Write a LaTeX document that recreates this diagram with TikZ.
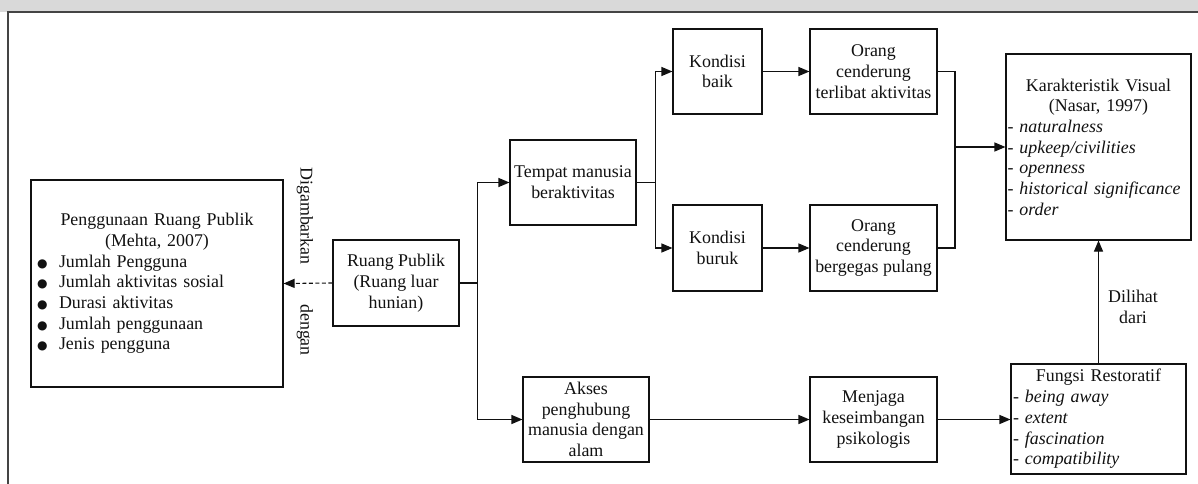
\documentclass[tikz,border=0pt]{standalone}
\usepackage{fontspec}
\setmainfont{Liberation Serif}
\newfontfamily\dejavu{DejaVu Sans}
\usetikzlibrary{arrows.meta}
\setlength{\parskip}{0pt}
\setlength{\parindent}{0pt}
\newcommand{\dfont}{\fontsize{17.9}{20.7}\selectfont}
\newcommand{\bul}{\makebox[23pt][l]{\hspace{1pt}{\dejavu\fontsize{12}{12}\selectfont ●}}}
\definecolor{band}{HTML}{D9D9D9}
\definecolor{frame}{HTML}{444444}
\definecolor{ink}{HTML}{111111}
\tikzset{
  sbox/.style={draw=ink, line width=1.1pt, inner sep=0pt, align=center, font=\dfont, text=ink},
  lbox/.style={draw=ink, line width=1.1pt, inner sep=0pt, font=\dfont, text=ink},
  conn/.style={draw=ink, line width=1.1pt},
  arr/.style={conn, -{Triangle[length=11pt,width=9pt]}},
  lbl/.style={font=\dfont, text=ink, inner sep=0pt},
}
\begin{document}
\begin{tikzpicture}[x=1pt,y=-1pt]
\useasboundingbox (0,0) rectangle (1198,484);
\fill[white] (0,0) rectangle (1198,484);
\fill[band] (0,0) rectangle (1198,12);
\draw[frame, line width=1.3pt] (1198,12) -- (8,12) -- (8,484);

% boxes
\node[lbox, minimum width=252, minimum height=207, text width=242] (pg) at (157,283.5)
 {{\centering Penggunaan Ruang Publik\\(Mehta, 2007)\par}
  \raggedright
  \bul Jumlah Pengguna\\
  \bul Jumlah aktivitas sosial\\
  \bul Durasi aktivitas\\
  \bul Jumlah penggunaan\\
  \bul Jenis pengguna\par};
\node[sbox, minimum width=126, minimum height=86] (rp) at (396,283) {Ruang Publik\\(Ruang luar\\hunian)};
\node[sbox, minimum width=126, minimum height=85] (tm) at (573,182.5) {Tempat manusia\\beraktivitas};
\node[sbox, minimum width=89, minimum height=85] (kb) at (717.5,71.5) {Kondisi\\baik};
\node[sbox, minimum width=89, minimum height=86] (kr) at (717.5,248) {Kondisi\\buruk};
\node[sbox, minimum width=127, minimum height=85] (ot) at (873.5,71.5) {Orang\\cenderung\\terlibat aktivitas};
\node[sbox, minimum width=127, minimum height=86] (ob) at (873.5,248) {Orang\\cenderung\\bergegas pulang};
\node[lbox, minimum width=185, minimum height=186, text width=182] (kv) at (1098.5,147)
 {{\centering Karakteristik Visual\\(Nasar, 1997)\par}
  \raggedright
  - \textit{naturalness}\\
  - \textit{upkeep/civilities}\\
  - \textit{openness}\\
  - \textit{historical significance}\\
  - \textit{order}\par};
\node[sbox, minimum width=126, minimum height=85] (ak) at (586,419.5) {Akses\\penghubung\\manusia dengan\\alam};
\node[sbox, minimum width=127, minimum height=85] (mj) at (873.5,419.5) {Menjaga\\keseimbangan\\psikologis};
\node[lbox, minimum width=175, minimum height=110, text width=171] (fr) at (1098.5,419)
 {{\centering Fungsi Restoratif\par}
  \raggedright
  - \textit{being away}\\
  - \textit{extent}\\
  - \textit{fascination}\\
  - \textit{compatibility}\par};

% labels
\node[lbl, rotate=-90] (dg) at (305,216) {Digambarkan};
\node[lbl, rotate=-90] (dn) at (305,330) {dengan};
\node[lbl, align=center] (dl) at (1133,307) {Dilihat\\dari};

% connectors
\draw[arr, dash pattern=on 4pt off 2.5pt] (rp.west) -- (pg.east);
\draw[conn] (rp.east) -- ++(18,0) coordinate (tr);
\draw[arr] (tr) |- (tm.west);
\draw[arr] (tr) |- (ak.west);
\draw[conn] (tm.east) -- ++(19,0) coordinate (br);
\draw[arr] (br) |- (kb.west);
\draw[arr] (br) |- (kr.west);
\draw[arr] (kb.east) -- (ot.west);
\draw[arr] (kr.east) -- (ob.west);
\coordinate (mg) at (955,147);
\draw[conn] (ot.east) -| (mg);
\draw[conn] (ob.east) -| (mg);
\draw[arr] (mg) -- (kv.west);
\draw[arr] (ak.east) -- (mj.west);
\draw[arr] (mj.east) -- (mj.east -| fr.west);
\draw[arr] (fr.north) -- (kv.south);
\end{tikzpicture}
\end{document}
